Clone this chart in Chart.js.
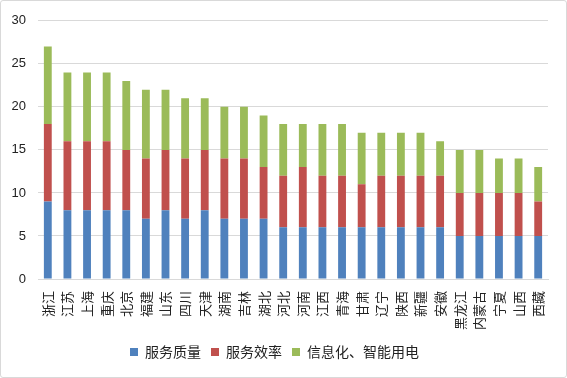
<!DOCTYPE html>
<html>
<head>
<meta charset="utf-8">
<script src="https://cdn.jsdelivr.net/npm/chart.js@4"></script>
<style>
  html, body { margin: 0; padding: 0; background: #fff; }
  #wrap {
    width: 567px; height: 378px; box-sizing: border-box;
    border: 1px solid #d9d9d9; border-radius: 3px; position: relative;
  }
</style>
</head>
<body>
<div id="wrap"><canvas id="chart"></canvas></div>
<script>
const provinces = ['浙江', '江苏', '上海', '重庆', '北京', '福建', '山东', '四川', '天津', '湖南', '吉林', '湖北', '河北',
  '河南', '江西', '青海', '甘肃', '辽宁', '陕西', '新疆', '安徽', '黑龙江', '内蒙古', '宁夏', '山西', '西藏'];
const serviceQuality = [9, 8, 8, 8, 8, 7, 8, 7, 8, 7, 7, 7, 6, 6, 6, 6, 6, 6, 6, 6, 6, 5, 5, 5, 5, 5];
const serviceEfficiency = [9, 8, 8, 8, 7, 7, 7, 7, 7, 7, 7, 6, 6, 7, 6, 6, 5, 6, 6, 6, 6, 5, 5, 5, 5, 4];
const smartPower = [9, 8, 8, 8, 8, 8, 7, 7, 6, 6, 6, 6, 6, 5, 6, 6, 6, 5, 5, 5, 4, 5, 5, 4, 4, 4];
const seriesNames = ['服务质量', '服务效率', '信息化、智能用电'];
const yTicks = [0, 5, 10, 15, 20, 25, 30];

const cjk = '"Noto Sans CJK SC", "Liberation Sans", sans-serif';

new Chart(document.getElementById('chart').getContext('2d'), {
  type: 'bar',
  data: {
    labels: provinces,
    datasets: [
      { label: seriesNames[0], data: serviceQuality, backgroundColor: '#4f81bd' },
      { label: seriesNames[1], data: serviceEfficiency, backgroundColor: '#c0504d' },
      { label: seriesNames[2], data: smartPower, backgroundColor: '#9bbb59' }
    ]
  },
  options: {
    responsive: true,
    maintainAspectRatio: false,
    animation: false,
    layout: { padding: { left: 0, right: 18, top: 15, bottom: 8 } },
    datasets: { bar: { barPercentage: 0.4, categoryPercentage: 1 } },
    plugins: {
      tooltip: { enabled: false },
      legend: {
        position: 'bottom',
        labels: {
          boxWidth: 8, boxHeight: 8, padding: 10,
          color: '#222', font: { family: cjk, size: 14 }
        }
      }
    },
    scales: {
      x: {
        stacked: true,
        grid: { display: false },
        border: { color: '#d9d9d9' },
        ticks: {
          autoSkip: false, minRotation: 90, maxRotation: 90,
          color: '#222', font: { family: cjk, size: 13 }, padding: 4
        },
        afterFit: s => { s.height = 56; }
      },
      y: {
        stacked: true,
        min: 0, max: 30,
        afterBuildTicks: s => { s.ticks = yTicks.map(v => ({ value: v })); },
        grid: { color: '#d9d9d9', drawTicks: false },
        border: { display: false },
        ticks: {
          color: '#222', font: { family: '"Liberation Sans", sans-serif', size: 13 }, padding: 12
        },
        afterFit: s => { s.width = 37; }
      }
    }
  }
});
</script>
</body>
</html>
